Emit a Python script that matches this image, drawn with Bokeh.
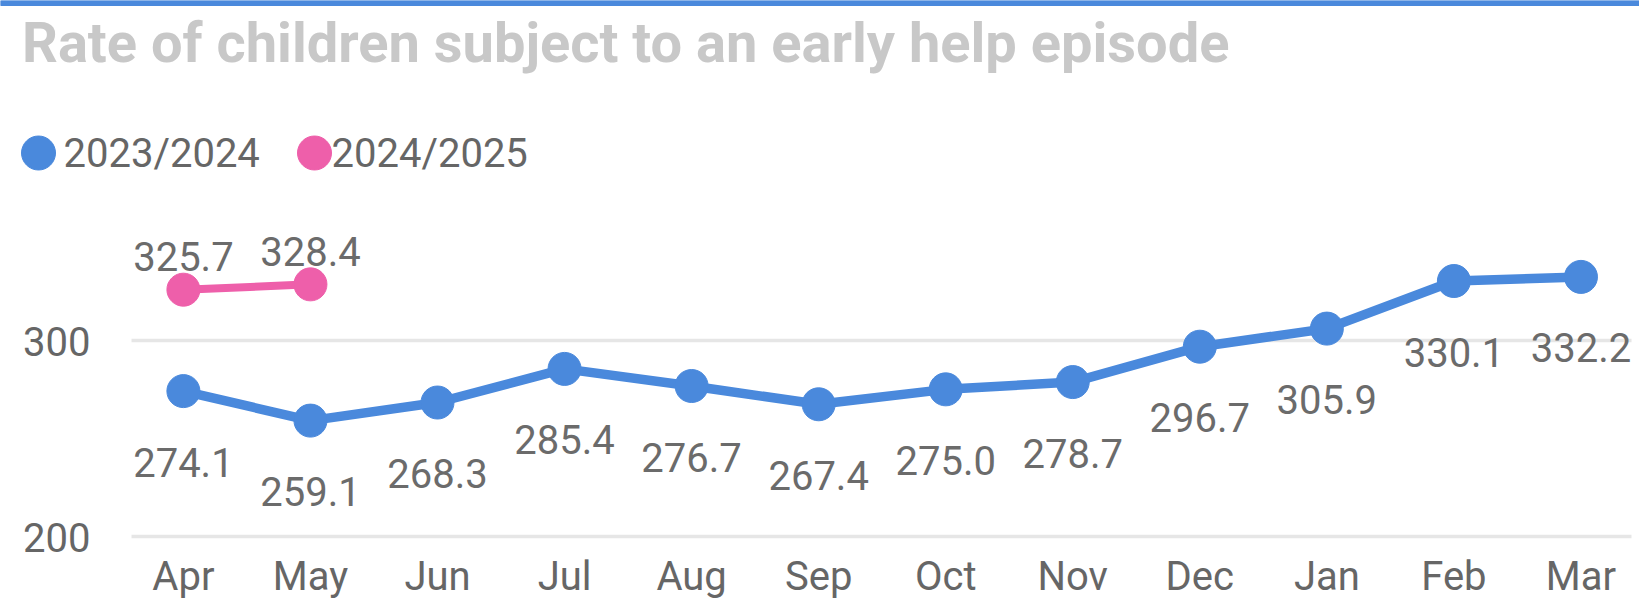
from bokeh.plotting import figure
from bokeh.models import Range1d, FixedTicker, Grid
from bokeh.embed import file_html
from bokeh.resources import INLINE
from bokeh.core.properties import value

# ---- data ----
months = ["Apr", "May", "Jun", "Jul", "Aug", "Sep", "Oct", "Nov", "Dec", "Jan", "Feb", "Mar"]
rate_2023_24 = [274.1, 259.1, 268.3, 285.4, 276.7, 267.4, 275.0, 278.7, 296.7, 305.9, 330.1, 332.2]
rate_2024_25 = [325.7, 328.4]
series_names = ["2023/2024", "2024/2025"]
y_ticks = [200, 300]
title_text = "Rate of children subject to an early help episode"

# ---- style ----
BLUE = "#4A89DC"
PINK = "#EE5FAA"
TEXT = "#666666"
LABEL = "#6B6B6B"
TITLE = "#C8C8C8"
GRID = "#E6E6E6"
FONT = "Roboto"

W, H = 1639, 615
FRAME_B = 556                  # bottom of plotting frame (canvas px)
X0_PX, X_STEP = 182.9, 127.05  # pixel position of first category and step
PX_PER_UNIT = 1.966
Y_AT_200 = 536.3

x_start = -X0_PX / X_STEP
x_end = (W - X0_PX) / X_STEP
y_start = 200 - (FRAME_B - Y_AT_200) / PX_PER_UNIT
y_end = 200 + Y_AT_200 / PX_PER_UNIT

p = figure(width=W, height=H, x_range=Range1d(x_start, x_end), y_range=Range1d(y_start, y_end),
           y_axis_location=None, output_backend="svg", toolbar_location=None,
           min_border_left=0, min_border_right=0, min_border_top=0, min_border_bottom=H - FRAME_B)
p.outline_line_color = None
p.background_fill_color = "white"
p.border_fill_color = "white"
# a pixel-space range pair for header decorations (title, legend)
p.extra_x_ranges = {"px": Range1d(0, W)}
p.extra_y_ranges = {"px": Range1d(FRAME_B, 0)}

# grid lines (only between plot-area edges)
GRID_L, GRID_R = 131, 1631
p.xgrid.visible = False
yg = p.ygrid[0]
yg.ticker = FixedTicker(ticks=y_ticks)
yg.grid_line_color = GRID
yg.grid_line_width = 3.5
if "cross_bounds" in Grid.properties():
    yg.cross_bounds = ((GRID_L - X0_PX) / X_STEP, (GRID_R - X0_PX) / X_STEP)
else:
    yg.visible = False
    p.segment(x0=[GRID_L] * len(y_ticks), x1=[GRID_R] * len(y_ticks), y0=y_ticks, y1=y_ticks,
              x_range_name="px", line_color=GRID, line_width=3.5)

# y tick labels
p.text(x=[131 - 41] * len(y_ticks), y=y_ticks, text=[str(t) for t in y_ticks], x_range_name="px",
       text_font=value(FONT), text_font_size="40px", text_color=TEXT,
       text_align="right", text_baseline="middle", y_offset=1)

x1 = list(range(len(rate_2023_24)))
x2 = list(range(len(rate_2024_25)))

p.line(x1, rate_2023_24, line_width=9.5, color=BLUE)
p.scatter(x1, rate_2023_24, size=33, color=BLUE)
p.line(x2, rate_2024_25, line_width=8, color=PINK)
p.scatter(x2, rate_2024_25, size=33, color=PINK)

p.text(x1, rate_2023_24, text=[f"{v:.1f}" for v in rate_2023_24], y_offset=71,
       text_font=value(FONT), text_font_size="40px", text_color=LABEL,
       text_align="center", text_baseline="alphabetic")
p.text(x2, rate_2024_25, text=[f"{v:.1f}" for v in rate_2024_25], y_offset=-33,
       text_font=value(FONT), text_font_size="40px", text_color=LABEL,
       text_align="center", text_baseline="alphabetic")

# x axis
p.xaxis.ticker = FixedTicker(ticks=x1)
p.xaxis.major_label_overrides = {i: m for i, m in enumerate(months)}
p.xaxis.axis_line_color = None
p.xaxis.major_tick_line_color = None
p.xaxis.minor_tick_line_color = None
p.xaxis.major_tick_out = 0
p.xaxis.major_tick_in = 0
p.xaxis.major_label_text_font = FONT
p.xaxis.major_label_text_font_size = "40px"
p.xaxis.major_label_text_color = TEXT
p.xaxis.major_label_standoff = 12 - (FRAME_B - 540)

# top accent bar
p.quad(left=[0], right=[W], top=[0], bottom=[5], x_range_name="px", y_range_name="px",
       color=BLUE)

# title
p.text(x=[21.5], y=[42.7], text=[title_text], x_range_name="px", y_range_name="px",
       text_font=value(FONT), text_font_style="bold", text_font_size="56px",
       text_color=TITLE, text_align="left", text_baseline="alphabetic")

# legend
p.scatter(x=[38, 314], y=[152.5, 152.5], x_range_name="px", y_range_name="px",
          size=34, color=[BLUE, PINK])
p.text(x=[63, 331], y=[153.4, 153.4], text=series_names, x_range_name="px", y_range_name="px",
       text_font=value(FONT), text_font_size="40px", text_color=TEXT,
       text_align="left", text_baseline="alphabetic")

open("out.html", "w").write(file_html(p, INLINE))
